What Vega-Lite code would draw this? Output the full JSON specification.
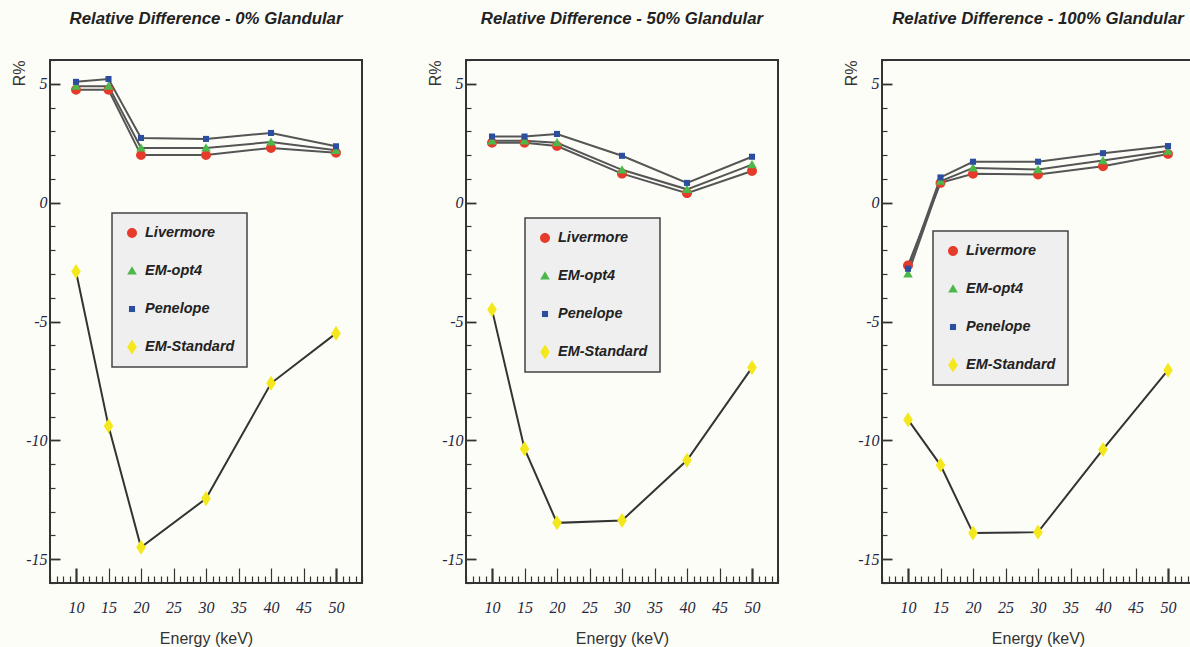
{
  "$schema": "https://vega.github.io/schema/vega-lite/v6.json",
  "background": "#fdfdf8",
  "padding": {"left": 10, "top": 10, "right": 0, "bottom": 0},
  "spacing": 62,
  "data": {"values": [
    {"panel": "0%", "series": "Livermore", "energy": 10, "r": 4.75},
    {"panel": "0%", "series": "Livermore", "energy": 15, "r": 4.75},
    {"panel": "0%", "series": "Livermore", "energy": 20, "r": 2.0},
    {"panel": "0%", "series": "Livermore", "energy": 30, "r": 2.0},
    {"panel": "0%", "series": "Livermore", "energy": 40, "r": 2.3},
    {"panel": "0%", "series": "Livermore", "energy": 50, "r": 2.1},
    {"panel": "0%", "series": "EM-opt4", "energy": 10, "r": 4.9},
    {"panel": "0%", "series": "EM-opt4", "energy": 15, "r": 4.9},
    {"panel": "0%", "series": "EM-opt4", "energy": 20, "r": 2.3},
    {"panel": "0%", "series": "EM-opt4", "energy": 30, "r": 2.3},
    {"panel": "0%", "series": "EM-opt4", "energy": 40, "r": 2.55},
    {"panel": "0%", "series": "EM-opt4", "energy": 50, "r": 2.2},
    {"panel": "0%", "series": "Penelope", "energy": 10, "r": 5.08},
    {"panel": "0%", "series": "Penelope", "energy": 15, "r": 5.2},
    {"panel": "0%", "series": "Penelope", "energy": 20, "r": 2.72},
    {"panel": "0%", "series": "Penelope", "energy": 30, "r": 2.68},
    {"panel": "0%", "series": "Penelope", "energy": 40, "r": 2.93},
    {"panel": "0%", "series": "Penelope", "energy": 50, "r": 2.37},
    {"panel": "0%", "series": "EM-Standard", "energy": 10, "r": -2.9},
    {"panel": "0%", "series": "EM-Standard", "energy": 15, "r": -9.4},
    {"panel": "0%", "series": "EM-Standard", "energy": 20, "r": -14.5},
    {"panel": "0%", "series": "EM-Standard", "energy": 30, "r": -12.45},
    {"panel": "0%", "series": "EM-Standard", "energy": 40, "r": -7.6},
    {"panel": "0%", "series": "EM-Standard", "energy": 50, "r": -5.5},
    {"panel": "50%", "series": "Livermore", "energy": 10, "r": 2.52},
    {"panel": "50%", "series": "Livermore", "energy": 15, "r": 2.52},
    {"panel": "50%", "series": "Livermore", "energy": 20, "r": 2.38},
    {"panel": "50%", "series": "Livermore", "energy": 30, "r": 1.22},
    {"panel": "50%", "series": "Livermore", "energy": 40, "r": 0.4},
    {"panel": "50%", "series": "Livermore", "energy": 50, "r": 1.33},
    {"panel": "50%", "series": "EM-opt4", "energy": 10, "r": 2.6},
    {"panel": "50%", "series": "EM-opt4", "energy": 15, "r": 2.6},
    {"panel": "50%", "series": "EM-opt4", "energy": 20, "r": 2.52},
    {"panel": "50%", "series": "EM-opt4", "energy": 30, "r": 1.38},
    {"panel": "50%", "series": "EM-opt4", "energy": 40, "r": 0.56},
    {"panel": "50%", "series": "EM-opt4", "energy": 50, "r": 1.6},
    {"panel": "50%", "series": "Penelope", "energy": 10, "r": 2.78},
    {"panel": "50%", "series": "Penelope", "energy": 15, "r": 2.78},
    {"panel": "50%", "series": "Penelope", "energy": 20, "r": 2.89},
    {"panel": "50%", "series": "Penelope", "energy": 30, "r": 1.97},
    {"panel": "50%", "series": "Penelope", "energy": 40, "r": 0.83},
    {"panel": "50%", "series": "Penelope", "energy": 50, "r": 1.93},
    {"panel": "50%", "series": "EM-Standard", "energy": 10, "r": -4.5},
    {"panel": "50%", "series": "EM-Standard", "energy": 15, "r": -10.35},
    {"panel": "50%", "series": "EM-Standard", "energy": 20, "r": -13.47},
    {"panel": "50%", "series": "EM-Standard", "energy": 30, "r": -13.37},
    {"panel": "50%", "series": "EM-Standard", "energy": 40, "r": -10.84},
    {"panel": "50%", "series": "EM-Standard", "energy": 50, "r": -6.94},
    {"panel": "100%", "series": "Livermore", "energy": 10, "r": -2.64},
    {"panel": "100%", "series": "Livermore", "energy": 15, "r": 0.83},
    {"panel": "100%", "series": "Livermore", "energy": 20, "r": 1.21},
    {"panel": "100%", "series": "Livermore", "energy": 30, "r": 1.18},
    {"panel": "100%", "series": "Livermore", "energy": 40, "r": 1.53},
    {"panel": "100%", "series": "Livermore", "energy": 50, "r": 2.05},
    {"panel": "100%", "series": "EM-opt4", "energy": 10, "r": -3.0},
    {"panel": "100%", "series": "EM-opt4", "energy": 15, "r": 0.9},
    {"panel": "100%", "series": "EM-opt4", "energy": 20, "r": 1.46},
    {"panel": "100%", "series": "EM-opt4", "energy": 30, "r": 1.39},
    {"panel": "100%", "series": "EM-opt4", "energy": 40, "r": 1.77},
    {"panel": "100%", "series": "EM-opt4", "energy": 50, "r": 2.17},
    {"panel": "100%", "series": "Penelope", "energy": 10, "r": -2.78},
    {"panel": "100%", "series": "Penelope", "energy": 15, "r": 1.06},
    {"panel": "100%", "series": "Penelope", "energy": 20, "r": 1.72},
    {"panel": "100%", "series": "Penelope", "energy": 30, "r": 1.72},
    {"panel": "100%", "series": "Penelope", "energy": 40, "r": 2.08},
    {"panel": "100%", "series": "Penelope", "energy": 50, "r": 2.38},
    {"panel": "100%", "series": "EM-Standard", "energy": 10, "r": -9.13},
    {"panel": "100%", "series": "EM-Standard", "energy": 15, "r": -11.04},
    {"panel": "100%", "series": "EM-Standard", "energy": 20, "r": -13.9},
    {"panel": "100%", "series": "EM-Standard", "energy": 30, "r": -13.86},
    {"panel": "100%", "series": "EM-Standard", "energy": 40, "r": -10.38},
    {"panel": "100%", "series": "EM-Standard", "energy": 50, "r": -7.05}
  ]},
  "resolve": {"scale": {"color": "independent", "shape": "independent"}, "legend": {"color": "independent", "shape": "independent"}},
  "hconcat": [
    {
      "title": {"text": "Relative Difference - 0% Glandular"},
      "width": 312, "height": 523,
      "transform": [{"filter": "datum.panel === '0%'"}],
      "encoding": {
        "x": {"field": "energy", "type": "quantitative", "scale": {"domain": [6, 54], "nice": false, "zero": false},
          "axis": {"title": "Energy (keV)", "values": [6,7,8,9,10,11,12,13,14,15,16,17,18,19,20,21,22,23,24,25,26,27,28,29,30,31,32,33,34,35,36,37,38,39,40,41,42,43,44,45,46,47,48,49,50,51,52,53,54],
            "labelExpr": "datum.value % 5 === 0 ? '' + datum.value : ''",
            "tickWidth": {"condition": {"test": "datum.value === 10 || datum.value === 50", "value": 2.2}, "value": 1.2},
            "tickSize": {"condition": {"test": "datum.value % 5 === 0", "value": -15}, "value": -7}}},
        "y": {"field": "r", "type": "quantitative", "scale": {"domain": [-16, 6], "nice": false, "zero": false},
          "axis": {"title": "R%", "values": [-16,-15,-14,-13,-12,-11,-10,-9,-8,-7,-6,-5,-4,-3,-2,-1,0,1,2,3,4,5,6],
            "labelExpr": "datum.value % 5 === 0 ? '' + datum.value : ''",
            "tickWidth": {"condition": {"test": "datum.value % 5 === 0", "value": 1.8}, "value": 1.2},
            "tickSize": {"condition": {"test": "datum.value % 5 === 0", "value": -10}, "value": -5}}}
      },
      "layer": [
        {"mark": {"type": "line", "strokeWidth": 2},
         "encoding": {
           "detail": {"field": "series"},
           "color": {"condition": {"test": "datum.series === 'EM-Standard'", "value": "#333333"}, "value": "#555555"}
         }},
        {"mark": {"type": "point", "filled": true, "opacity": 1, "size": 256},
         "encoding": {
           "color": {"field": "series", "type": "nominal", "scale": {"domain": ["Livermore", "EM-opt4", "Penelope", "EM-Standard"], "range": ["#e63a2b", "#4db84a", "#2c4e9e", "#f4e81c"]},
             "legend": {"orient": "none", "legendX": 62, "legendY": 153}},
           "shape": {"field": "series", "type": "nominal", "scale": {"domain": ["Livermore", "EM-opt4", "Penelope", "EM-Standard"], "range": ["M-0.62,0A0.62,0.62,0,1,0,0.62,0A0.62,0.62,0,1,0,-0.62,0Z", "M0,-0.58L0.6,0.45L-0.6,0.45Z", "M-0.38,-0.38H0.38V0.38H-0.38Z", "M0,-0.94L0.6,0L0,0.94L-0.6,0Z"]},
             "legend": {"orient": "none", "legendX": 62, "legendY": 153}}
         }}
      ]
    },
    {
      "title": {"text": "Relative Difference - 50% Glandular"},
      "width": 312, "height": 523,
      "transform": [{"filter": "datum.panel === '50%'"}],
      "encoding": {
        "x": {"field": "energy", "type": "quantitative", "scale": {"domain": [6, 54], "nice": false, "zero": false},
          "axis": {"title": "Energy (keV)", "values": [6,7,8,9,10,11,12,13,14,15,16,17,18,19,20,21,22,23,24,25,26,27,28,29,30,31,32,33,34,35,36,37,38,39,40,41,42,43,44,45,46,47,48,49,50,51,52,53,54],
            "labelExpr": "datum.value % 5 === 0 ? '' + datum.value : ''",
            "tickWidth": {"condition": {"test": "datum.value === 10 || datum.value === 50", "value": 2.2}, "value": 1.2},
            "tickSize": {"condition": {"test": "datum.value % 5 === 0", "value": -15}, "value": -7}}},
        "y": {"field": "r", "type": "quantitative", "scale": {"domain": [-16, 6], "nice": false, "zero": false},
          "axis": {"title": "R%", "values": [-16,-15,-14,-13,-12,-11,-10,-9,-8,-7,-6,-5,-4,-3,-2,-1,0,1,2,3,4,5,6],
            "labelExpr": "datum.value % 5 === 0 ? '' + datum.value : ''",
            "tickWidth": {"condition": {"test": "datum.value % 5 === 0", "value": 1.8}, "value": 1.2},
            "tickSize": {"condition": {"test": "datum.value % 5 === 0", "value": -10}, "value": -5}}}
      },
      "layer": [
        {"mark": {"type": "line", "strokeWidth": 2},
         "encoding": {
           "detail": {"field": "series"},
           "color": {"condition": {"test": "datum.series === 'EM-Standard'", "value": "#333333"}, "value": "#555555"}
         }},
        {"mark": {"type": "point", "filled": true, "opacity": 1, "size": 256},
         "encoding": {
           "color": {"field": "series", "type": "nominal", "scale": {"domain": ["Livermore", "EM-opt4", "Penelope", "EM-Standard"], "range": ["#e63a2b", "#4db84a", "#2c4e9e", "#f4e81c"]},
             "legend": {"orient": "none", "legendX": 59, "legendY": 158}},
           "shape": {"field": "series", "type": "nominal", "scale": {"domain": ["Livermore", "EM-opt4", "Penelope", "EM-Standard"], "range": ["M-0.62,0A0.62,0.62,0,1,0,0.62,0A0.62,0.62,0,1,0,-0.62,0Z", "M0,-0.58L0.6,0.45L-0.6,0.45Z", "M-0.38,-0.38H0.38V0.38H-0.38Z", "M0,-0.94L0.6,0L0,0.94L-0.6,0Z"]},
             "legend": {"orient": "none", "legendX": 59, "legendY": 158}}
         }}
      ]
    },
    {
      "title": {"text": "Relative Difference - 100% Glandular"},
      "width": 312, "height": 523,
      "transform": [{"filter": "datum.panel === '100%'"}],
      "encoding": {
        "x": {"field": "energy", "type": "quantitative", "scale": {"domain": [6, 54], "nice": false, "zero": false},
          "axis": {"title": "Energy (keV)", "values": [6,7,8,9,10,11,12,13,14,15,16,17,18,19,20,21,22,23,24,25,26,27,28,29,30,31,32,33,34,35,36,37,38,39,40,41,42,43,44,45,46,47,48,49,50,51,52,53,54],
            "labelExpr": "datum.value % 5 === 0 ? '' + datum.value : ''",
            "tickWidth": {"condition": {"test": "datum.value === 10 || datum.value === 50", "value": 2.2}, "value": 1.2},
            "tickSize": {"condition": {"test": "datum.value % 5 === 0", "value": -15}, "value": -7}}},
        "y": {"field": "r", "type": "quantitative", "scale": {"domain": [-16, 6], "nice": false, "zero": false},
          "axis": {"title": "R%", "values": [-16,-15,-14,-13,-12,-11,-10,-9,-8,-7,-6,-5,-4,-3,-2,-1,0,1,2,3,4,5,6],
            "labelExpr": "datum.value % 5 === 0 ? '' + datum.value : ''",
            "tickWidth": {"condition": {"test": "datum.value % 5 === 0", "value": 1.8}, "value": 1.2},
            "tickSize": {"condition": {"test": "datum.value % 5 === 0", "value": -10}, "value": -5}}}
      },
      "layer": [
        {"mark": {"type": "line", "strokeWidth": 2},
         "encoding": {
           "detail": {"field": "series"},
           "color": {"condition": {"test": "datum.series === 'EM-Standard'", "value": "#333333"}, "value": "#555555"}
         }},
        {"mark": {"type": "point", "filled": true, "opacity": 1, "size": 256},
         "encoding": {
           "color": {"field": "series", "type": "nominal", "scale": {"domain": ["Livermore", "EM-opt4", "Penelope", "EM-Standard"], "range": ["#e63a2b", "#4db84a", "#2c4e9e", "#f4e81c"]},
             "legend": {"orient": "none", "legendX": 51, "legendY": 171}},
           "shape": {"field": "series", "type": "nominal", "scale": {"domain": ["Livermore", "EM-opt4", "Penelope", "EM-Standard"], "range": ["M-0.62,0A0.62,0.62,0,1,0,0.62,0A0.62,0.62,0,1,0,-0.62,0Z", "M0,-0.58L0.6,0.45L-0.6,0.45Z", "M-0.38,-0.38H0.38V0.38H-0.38Z", "M0,-0.94L0.6,0L0,0.94L-0.6,0Z"]},
             "legend": {"orient": "none", "legendX": 51, "legendY": 171}}
         }}
      ]
    }
  ],
  "config": {
    "view": {"stroke": "#333333", "strokeWidth": 2, "fill": "#fdfdf8"},
    "title": {"frame": "group", "anchor": "middle", "font": "Liberation Sans", "fontStyle": "italic", "fontWeight": "bold", "fontSize": 16.8, "color": "#222222", "offset": 24},
    "axis": {"domain": false, "grid": false, "tickColor": "#333333", "labelFont": "Liberation Serif", "labelFontStyle": "italic", "labelFontSize": 16, "labelColor": "#1e2640", "labelOverlap": false, "labelFlush": false, "labelBound": false, "titleFont": "Liberation Sans", "titleFontSize": 16, "titleFontWeight": "normal", "titleColor": "#333333"},
    "axisX": {"labelPadding": 31, "titlePadding": 7},
    "axisY": {"labelPadding": 13, "titlePadding": -2, "titleAnchor": "end"},
    "legend": {"fillColor": "#efefef", "strokeColor": "#444444", "strokeWidth": 1.5, "padding": 12, "rowPadding": 23, "symbolSize": 256, "labelFont": "Liberation Sans", "labelFontStyle": "italic", "labelFontWeight": "bold", "labelFontSize": 14.5, "labelColor": "#222222", "labelOffset": 5, "title": null, "symbolStrokeWidth": 0}
  }
}
